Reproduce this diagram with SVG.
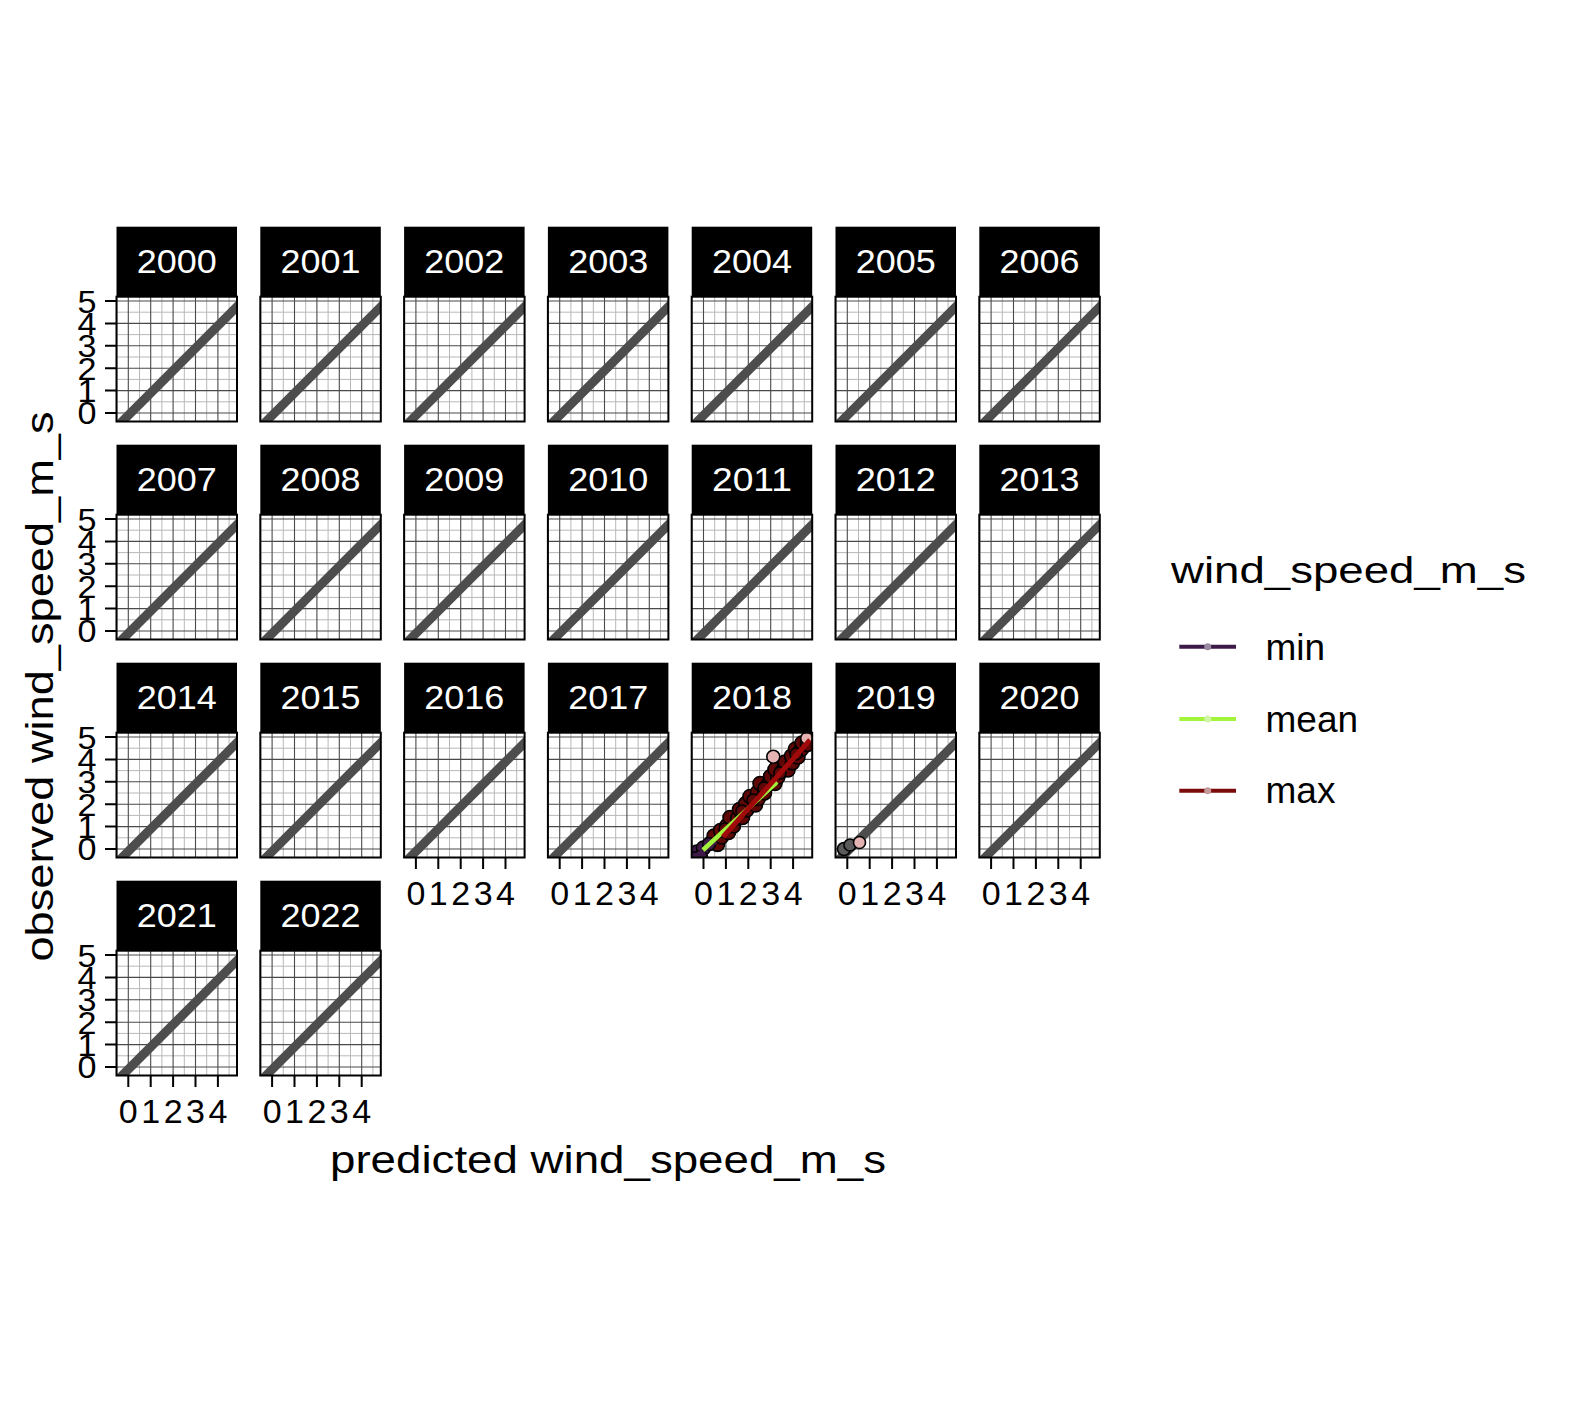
<svg xmlns="http://www.w3.org/2000/svg" xmlns:xlink="http://www.w3.org/1999/xlink" width="1574" height="1411" viewBox="0 0 1574 1411">
<style>
text{font-family:"Liberation Sans",Arial,Helvetica,sans-serif;fill:#000}
.strip{fill:#000}
.st{fill:#fff;font-size:32.5px;text-anchor:middle}
.minor{stroke:#b8b8b8;stroke-width:1;fill:none}
.major{stroke:#4a4a4a;stroke-width:1.1;fill:none}
.diag{stroke:#4d4d4d;stroke-width:9}
.border{fill:none;stroke:#000;stroke-width:2}
.tick{stroke:#000;stroke-width:2}
.yl{font-size:32px;text-anchor:end}
.xl{font-size:34px;text-anchor:middle}
.title{font-size:38.5px}
.pt{stroke:#000;stroke-width:1.6}
.r{fill:#5e0707}
.pk{fill:#e6b3b3}
.vi{fill:#3d1a47}
.gy{fill:#5a5a5a}
.lg{font-size:37px}
</style>
<defs>
<clipPath id="pclip"><rect x="0" y="0" width="120.5" height="124.8"/></clipPath>
<clipPath id="clip2018"><rect x="691.7" y="732.7" width="120.5" height="124.8"/></clipPath>
<clipPath id="clip2019"><rect x="835.5" y="732.7" width="120.5" height="124.8"/></clipPath>
<g id="pbg">
<rect x="0" y="0" width="120.5" height="124.8" fill="#fff"/>
<path class="minor" d="M0.6 0V124.8M23 0V124.8M45.4 0V124.8M67.8 0V124.8M90.2 0V124.8M112.6 0V124.8M0 15.5H120.5M0 37.9H120.5M0 60.3H120.5M0 82.7H120.5M0 105.1H120.5"/>
<path class="major" d="M11.8 0V124.8M34.2 0V124.8M56.6 0V124.8M79 0V124.8M101.4 0V124.8M0 4.3H120.5M0 26.7H120.5M0 49.1H120.5M0 71.5H120.5M0 93.9H120.5M0 116.3H120.5"/>
<line class="diag" clip-path="url(#pclip)" x1="-10" y1="140.5" x2="140" y2="-9.5"/>
</g>
<rect id="pborder" class="border" x="0" y="0" width="120.5" height="124.8"/>
<g id="yaxis">
<path class="tick" d="M-11.5 4.3H0M-11.5 26.7H0M-11.5 49.1H0M-11.5 71.5H0M-11.5 93.9H0M-11.5 116.3H0"/>
<text class="yl" x="-20" y="16.3" textLength="19" lengthAdjust="spacingAndGlyphs">5</text>
<text class="yl" x="-20" y="38.2" textLength="19" lengthAdjust="spacingAndGlyphs">4</text>
<text class="yl" x="-20" y="60.6" textLength="19" lengthAdjust="spacingAndGlyphs">3</text>
<text class="yl" x="-20" y="83" textLength="19" lengthAdjust="spacingAndGlyphs">2</text>
<text class="yl" x="-20" y="105.4" textLength="19" lengthAdjust="spacingAndGlyphs">1</text>
<text class="yl" x="-20" y="127.8" textLength="19" lengthAdjust="spacingAndGlyphs">0</text>
</g>
<g id="xaxis">
<path class="tick" d="M11.8 0V11.5M34.2 0V11.5M56.6 0V11.5M79 0V11.5M101.4 0V11.5"/>
<text class="xl" x="11.8" y="47.8">0</text>
<text class="xl" x="34.2" y="47.8">1</text>
<text class="xl" x="56.6" y="47.8">2</text>
<text class="xl" x="79" y="47.8">3</text>
<text class="xl" x="101.4" y="47.8">4</text>
</g>
</defs>
<rect x="0" y="0" width="1574" height="1411" fill="#fff"/>

<g id="facet-2000"><use href="#pbg" x="116.5" y="296.7"/><use href="#pborder" x="116.5" y="296.7"/><rect class="strip" x="116.5" y="226.7" width="120.5" height="70"/><text class="st" x="176.75" y="273.3" textLength="80" lengthAdjust="spacingAndGlyphs">2000</text></g>
<g id="facet-2001"><use href="#pbg" x="260.3" y="296.7"/><use href="#pborder" x="260.3" y="296.7"/><rect class="strip" x="260.3" y="226.7" width="120.5" height="70"/><text class="st" x="320.55" y="273.3" textLength="80" lengthAdjust="spacingAndGlyphs">2001</text></g>
<g id="facet-2002"><use href="#pbg" x="404.1" y="296.7"/><use href="#pborder" x="404.1" y="296.7"/><rect class="strip" x="404.1" y="226.7" width="120.5" height="70"/><text class="st" x="464.35" y="273.3" textLength="80" lengthAdjust="spacingAndGlyphs">2002</text></g>
<g id="facet-2003"><use href="#pbg" x="547.9" y="296.7"/><use href="#pborder" x="547.9" y="296.7"/><rect class="strip" x="547.9" y="226.7" width="120.5" height="70"/><text class="st" x="608.15" y="273.3" textLength="80" lengthAdjust="spacingAndGlyphs">2003</text></g>
<g id="facet-2004"><use href="#pbg" x="691.7" y="296.7"/><use href="#pborder" x="691.7" y="296.7"/><rect class="strip" x="691.7" y="226.7" width="120.5" height="70"/><text class="st" x="751.95" y="273.3" textLength="80" lengthAdjust="spacingAndGlyphs">2004</text></g>
<g id="facet-2005"><use href="#pbg" x="835.5" y="296.7"/><use href="#pborder" x="835.5" y="296.7"/><rect class="strip" x="835.5" y="226.7" width="120.5" height="70"/><text class="st" x="895.75" y="273.3" textLength="80" lengthAdjust="spacingAndGlyphs">2005</text></g>
<g id="facet-2006"><use href="#pbg" x="979.3" y="296.7"/><use href="#pborder" x="979.3" y="296.7"/><rect class="strip" x="979.3" y="226.7" width="120.5" height="70"/><text class="st" x="1039.55" y="273.3" textLength="80" lengthAdjust="spacingAndGlyphs">2006</text></g>

<g id="facet-2007"><use href="#pbg" x="116.5" y="514.7"/><use href="#pborder" x="116.5" y="514.7"/><rect class="strip" x="116.5" y="444.7" width="120.5" height="70"/><text class="st" x="176.75" y="491.3" textLength="80" lengthAdjust="spacingAndGlyphs">2007</text></g>
<g id="facet-2008"><use href="#pbg" x="260.3" y="514.7"/><use href="#pborder" x="260.3" y="514.7"/><rect class="strip" x="260.3" y="444.7" width="120.5" height="70"/><text class="st" x="320.55" y="491.3" textLength="80" lengthAdjust="spacingAndGlyphs">2008</text></g>
<g id="facet-2009"><use href="#pbg" x="404.1" y="514.7"/><use href="#pborder" x="404.1" y="514.7"/><rect class="strip" x="404.1" y="444.7" width="120.5" height="70"/><text class="st" x="464.35" y="491.3" textLength="80" lengthAdjust="spacingAndGlyphs">2009</text></g>
<g id="facet-2010"><use href="#pbg" x="547.9" y="514.7"/><use href="#pborder" x="547.9" y="514.7"/><rect class="strip" x="547.9" y="444.7" width="120.5" height="70"/><text class="st" x="608.15" y="491.3" textLength="80" lengthAdjust="spacingAndGlyphs">2010</text></g>
<g id="facet-2011"><use href="#pbg" x="691.7" y="514.7"/><use href="#pborder" x="691.7" y="514.7"/><rect class="strip" x="691.7" y="444.7" width="120.5" height="70"/><text class="st" x="751.95" y="491.3" textLength="80" lengthAdjust="spacingAndGlyphs">2011</text></g>
<g id="facet-2012"><use href="#pbg" x="835.5" y="514.7"/><use href="#pborder" x="835.5" y="514.7"/><rect class="strip" x="835.5" y="444.7" width="120.5" height="70"/><text class="st" x="895.75" y="491.3" textLength="80" lengthAdjust="spacingAndGlyphs">2012</text></g>
<g id="facet-2013"><use href="#pbg" x="979.3" y="514.7"/><use href="#pborder" x="979.3" y="514.7"/><rect class="strip" x="979.3" y="444.7" width="120.5" height="70"/><text class="st" x="1039.55" y="491.3" textLength="80" lengthAdjust="spacingAndGlyphs">2013</text></g>

<g id="facet-2014"><use href="#pbg" x="116.5" y="732.7"/><use href="#pborder" x="116.5" y="732.7"/><rect class="strip" x="116.5" y="662.7" width="120.5" height="70"/><text class="st" x="176.75" y="709.3" textLength="80" lengthAdjust="spacingAndGlyphs">2014</text></g>
<g id="facet-2015"><use href="#pbg" x="260.3" y="732.7"/><use href="#pborder" x="260.3" y="732.7"/><rect class="strip" x="260.3" y="662.7" width="120.5" height="70"/><text class="st" x="320.55" y="709.3" textLength="80" lengthAdjust="spacingAndGlyphs">2015</text></g>
<g id="facet-2016"><use href="#pbg" x="404.1" y="732.7"/><use href="#pborder" x="404.1" y="732.7"/><rect class="strip" x="404.1" y="662.7" width="120.5" height="70"/><text class="st" x="464.35" y="709.3" textLength="80" lengthAdjust="spacingAndGlyphs">2016</text></g>
<g id="facet-2017"><use href="#pbg" x="547.9" y="732.7"/><use href="#pborder" x="547.9" y="732.7"/><rect class="strip" x="547.9" y="662.7" width="120.5" height="70"/><text class="st" x="608.15" y="709.3" textLength="80" lengthAdjust="spacingAndGlyphs">2017</text></g>
<g id="facet-2018"><use href="#pbg" x="691.7" y="732.7"/>
<g id="points-2018" clip-path="url(#clip2018)">
<g class="pt r">
<circle cx="711" cy="843" r="7"/><circle cx="717.5" cy="844.4" r="7"/><circle cx="714" cy="836" r="7"/><circle cx="721.5" cy="837" r="7"/><circle cx="720.5" cy="830.5" r="7"/><circle cx="728.5" cy="832.5" r="7"/><circle cx="727" cy="825.5" r="7"/><circle cx="733.5" cy="826" r="7"/><circle cx="730" cy="817.5" r="7"/><circle cx="737.6" cy="818.4" r="7"/><circle cx="742.5" cy="817.5" r="7"/><circle cx="739.5" cy="809.5" r="7"/><circle cx="746.7" cy="810" r="7"/><circle cx="745.7" cy="803.6" r="7"/><circle cx="755.5" cy="805" r="7"/><circle cx="750" cy="796.5" r="7"/><circle cx="758.4" cy="798.5" r="7"/><circle cx="757.5" cy="792.2" r="7"/><circle cx="764.5" cy="792.9" r="7"/><circle cx="760" cy="783.5" r="7"/><circle cx="768" cy="785.1" r="7"/><circle cx="775" cy="783.4" r="7"/><circle cx="770.5" cy="776.5" r="7"/><circle cx="777.8" cy="777.3" r="7"/><circle cx="775" cy="769.5" r="7"/><circle cx="782.6" cy="770.6" r="7"/><circle cx="788" cy="770" r="7"/><circle cx="785" cy="762" r="7"/><circle cx="792.4" cy="762.9" r="7"/><circle cx="791.5" cy="756" r="7"/><circle cx="798" cy="757" r="7"/><circle cx="795.5" cy="749" r="7"/><circle cx="801.2" cy="749.5" r="7"/><circle cx="802" cy="743" r="7"/><circle cx="807.5" cy="744.5" r="7"/>
<circle cx="725" cy="829" r="6"/><circle cx="742" cy="811" r="6"/><circle cx="753" cy="800" r="6"/><circle cx="764" cy="788" r="6"/><circle cx="780" cy="773" r="6"/><circle cx="796" cy="754" r="6"/>
</g>
<g class="pt pk"><circle cx="773.3" cy="756.7" r="6.5"/><circle cx="806.7" cy="738.3" r="6"/></g>
<g class="pt vi"><circle cx="697" cy="852" r="7"/><circle cx="703.5" cy="848" r="7"/><circle cx="709" cy="844" r="6.5"/><circle cx="701" cy="857" r="6.5"/><circle cx="694" cy="858" r="6"/></g>
<line x1="695" y1="857" x2="716" y2="841" stroke="#3d1a47" stroke-width="5"/>
<line x1="703" y1="850" x2="777" y2="782" stroke="#a3f53c" stroke-width="4.5"/>
<line x1="723" y1="837" x2="810" y2="740" stroke="#a00a0a" stroke-width="5"/>
</g>
<use href="#pborder" x="691.7" y="732.7"/><rect class="strip" x="691.7" y="662.7" width="120.5" height="70"/><text class="st" x="751.95" y="709.3" textLength="80" lengthAdjust="spacingAndGlyphs">2018</text></g>
<g id="facet-2019"><use href="#pbg" x="835.5" y="732.7"/>
<g id="points-2019" clip-path="url(#clip2019)">
<g class="pt gy"><circle cx="844" cy="849" r="6.5"/><circle cx="850" cy="845" r="6"/></g>
<g class="pt pk"><circle cx="859.5" cy="842.5" r="6"/></g>
</g>
<use href="#pborder" x="835.5" y="732.7"/><rect class="strip" x="835.5" y="662.7" width="120.5" height="70"/><text class="st" x="895.75" y="709.3" textLength="80" lengthAdjust="spacingAndGlyphs">2019</text></g>
<g id="facet-2020"><use href="#pbg" x="979.3" y="732.7"/><use href="#pborder" x="979.3" y="732.7"/><rect class="strip" x="979.3" y="662.7" width="120.5" height="70"/><text class="st" x="1039.55" y="709.3" textLength="80" lengthAdjust="spacingAndGlyphs">2020</text></g>

<g id="facet-2021"><use href="#pbg" x="116.5" y="950.7"/><use href="#pborder" x="116.5" y="950.7"/><rect class="strip" x="116.5" y="880.7" width="120.5" height="70"/><text class="st" x="176.75" y="927.3" textLength="80" lengthAdjust="spacingAndGlyphs">2021</text></g>
<g id="facet-2022"><use href="#pbg" x="260.3" y="950.7"/><use href="#pborder" x="260.3" y="950.7"/><rect class="strip" x="260.3" y="880.7" width="120.5" height="70"/><text class="st" x="320.55" y="927.3" textLength="80" lengthAdjust="spacingAndGlyphs">2022</text></g>

<g id="y-axes">
<use href="#yaxis" x="116.5" y="296.7"/>
<use href="#yaxis" x="116.5" y="514.7"/>
<use href="#yaxis" x="116.5" y="732.7"/>
<use href="#yaxis" x="116.5" y="950.7"/>
</g>
<g id="x-axes">
<use href="#xaxis" x="116.5" y="1075.5"/>
<use href="#xaxis" x="260.3" y="1075.5"/>
<use href="#xaxis" x="404.1" y="857.5"/>
<use href="#xaxis" x="547.9" y="857.5"/>
<use href="#xaxis" x="691.7" y="857.5"/>
<use href="#xaxis" x="835.5" y="857.5"/>
<use href="#xaxis" x="979.3" y="857.5"/>
</g>

<text id="x-title" class="title" x="608" y="1173.3" text-anchor="middle" textLength="556" lengthAdjust="spacingAndGlyphs">predicted wind_speed_m_s</text>
<text id="y-title" class="title" transform="translate(53.3,686.5) rotate(-90)" x="0" y="0" text-anchor="middle" textLength="550" lengthAdjust="spacingAndGlyphs">observed wind_speed_m_s</text>

<g id="legend">
<text class="lg" x="1171" y="583.3" textLength="355" lengthAdjust="spacingAndGlyphs">wind_speed_m_s</text>
<line x1="1179.3" y1="646.7" x2="1236" y2="646.7" stroke="#3d1a47" stroke-width="4"/>
<circle cx="1207.7" cy="646.7" r="3.5" fill="#9a8aa0"/>
<text class="lg" x="1265.5" y="660">min</text>
<line x1="1179.3" y1="719" x2="1236" y2="719" stroke="#a3f53c" stroke-width="4"/>
<circle cx="1207.7" cy="719" r="3.5" fill="#cff5a5"/>
<text class="lg" x="1265.5" y="732.3">mean</text>
<line x1="1179.3" y1="790.7" x2="1236" y2="790.7" stroke="#7d0a0a" stroke-width="4"/>
<circle cx="1207.7" cy="790.7" r="3.5" fill="#c49a9a"/>
<text class="lg" x="1265.5" y="803.3">max</text>
</g>
</svg>
